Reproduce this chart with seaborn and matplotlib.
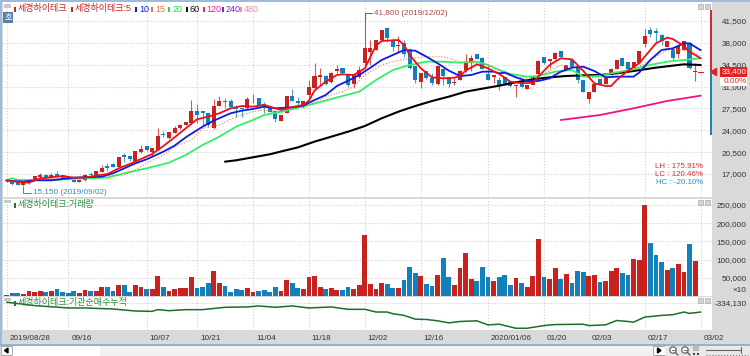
import matplotlib
matplotlib.use('Agg')
import matplotlib.pyplot as plt
from matplotlib.patches import Rectangle, Polygon, Circle
from matplotlib.transforms import ScaledTranslation
import seaborn as sns

# Daily candles, one entry per trading day (won)
opens = [15850,15900,15800,15250,15500,16050,16500,16850,16300,17000,
         16850,16550,16050,15750,16050,17000,16700,17300,18300,18550,
         18200,20000,19750,19100,20450,21350,20600,20850,23400,22700,
         23600,24300,24850,25100,27000,27000,26700,24400,27900,28700,
         28550,27650,27500,27500,28950,29100,28100,27450,26950,25550,
         26800,29500,28700,27750,29600,30700,32550,32550,31650,33550,
         33900,33000,31350,32450,34700,36600,36850,38450,40300,38200,
         37450,37900,36550,34300,31650,33350,32300,31350,33800,32450,
         31500,32050,33650,35000,36200,35500,32950,32600,32050,32450,
         31900,31100,31900,30650,31250,33000,35650,35150,35350,36700,
         33650,35150,33900,32050,28950,30150,32150,31400,33000,33800,
         35500,34800,33900,34800,37800,39950,39900,39150,37350,36950,
         36150,36850,37900,33300]
closes = [16000,15350,15250,15800,15800,16550,16850,16300,16800,16750,
          16300,16150,15800,16050,16850,16800,17450,17900,17900,18200,
          19700,19700,19450,20600,21000,20850,21100,22950,23250,23650,
          24300,24850,25250,27100,26450,26700,24850,27900,28550,28550,
          27750,27400,27350,28950,29000,28050,27950,26900,25750,26450,
          29500,28700,28300,28550,30800,32550,32850,31400,33100,33800,
          33100,31250,32850,33550,37100,37100,38350,39950,38700,37350,
          37650,36150,33900,32050,33100,32300,31500,34150,32700,31400,
          31700,33400,34800,35550,35400,33800,32050,32750,31100,31250,
          31100,31250,31000,31250,32700,35100,34700,35350,36300,35800,
          34450,34200,32050,30150,30000,31400,31250,32450,33800,35150,
          34350,33750,34800,36550,39100,39400,39500,38300,38150,35500,
          37400,38300,33900,33400]
highs = [16050,15950,15850,15850,15850,16600,17100,16950,17100,17550,
         16900,16600,16200,16100,16950,17400,17500,18450,18700,18800,
         19750,20300,20000,20650,21650,21550,21200,24300,23900,23700,
         24700,24950,25400,28850,28200,27150,26800,28950,29550,29100,
         29000,28050,27600,29350,29750,29150,28600,27500,27000,26500,
         29550,30650,29350,28600,32000,34700,33900,32850,33400,34450,
         33950,33050,32900,34300,42700,38450,38400,40000,40550,38700,
         39100,38450,37100,34350,33150,33400,33100,34200,33850,32500,
         32300,33650,36150,36050,36250,35800,34450,32800,32450,32500,
         31950,31250,32000,31300,32750,35250,35700,35400,36600,36750,
         34500,35200,33950,32100,30050,31450,32200,32500,33950,35200,
         35550,34850,34850,36600,40150,40550,40300,39400,38200,37000,
         37450,38350,38200,34700]
lows = [15800,15300,15200,15100,15450,16000,16300,16250,16250,16700,
        16150,16050,15700,15700,15950,16550,16650,17250,17500,18150,
        18150,19000,19100,19050,20400,20750,19800,20800,22950,22650,
        23550,24250,24800,25050,25100,24850,24550,24150,27850,27500,
        27700,26150,26150,27400,28300,28000,26700,26850,25350,25500,
        26750,28650,27900,27500,28850,30600,31250,31300,31600,33100,
        33050,30850,30700,32400,33900,34450,36800,38400,38150,36750,
        36550,35800,33850,31500,30700,32250,31250,31300,31250,31000,
        31250,32000,33350,33550,35350,33750,32000,31500,30450,31200,
        30850,29400,30950,30600,31200,32850,34650,33900,35300,35750,
        33600,34150,31500,30100,28400,30100,31200,31350,32950,33750,
        34300,33700,33850,34750,37250,39000,38200,37650,37300,35250,
        35500,36800,33850,31900]

# Volume in thousands of shares, same order as the candles
volume_k = [4,9,9,5,13,11,13,11,15,20,11,9,15,7,16,15,13,24,26,13,
            31,29,11,31,26,18,20,55,26,15,20,22,22,53,22,24,37,68,35,27,
            11,20,16,22,11,13,16,11,26,15,44,37,22,18,52,55,24,18,22,16,
            16,24,20,29,167,33,20,35,33,21,21,44,80,64,55,33,27,58,105,53,
            29,77,117,46,40,81,53,40,53,57,29,49,37,24,55,157,53,46,77,48,
            60,37,70,66,55,57,38,42,70,76,62,57,102,98,250,146,113,93,71,77,
            87,66,144,96]

# Moving averages at the marked trading days
ma5_x = [0,2,4,6,8,10,12,14,16,18,20,22,24,26,28,30,32,34,36,38,40,42,44,46,48,49,50,53,54,55,57,59,60,62,63,64,65,66,67,68,70,71,72,74,76,78,80,81,82,84,86,88,90,92,94,95,97,99,101,103,105,107,108,109,111,113,115,116,118,119,121,122,124]
ma5_y = [15990,15720,15615,16310,16470,16680,16415,16415,16735,17000,17905,18600,19400,20200,21480,22870,24310,25750,26175,26710,27510,27880,27775,28040,27510,27240,27510,28040,28735,30335,31775,32840,32950,32840,33375,33905,35775,37535,38280,38335,38440,37640,36040,33905,32465,32305,32415,32680,33535,34545,33905,33000,31775,31510,31615,32575,34440,35510,35345,33535,31510,31080,31080,32040,33535,34705,36840,37905,38815,38600,37480,36575,35510]
ma10_x = [0,3,5,8,12,17,19,21,23,25,28,30,32,35,37,40,42,44,46,48,51,53,55,57,59,61,63,65,67,69,71,73,75,77,79,81,83,85,87,88,89,91,93,95,97,99,101,103,105,107,109,112,113,115,117,119,121,122,124]
ma10_y = [15935,15775,15990,15990,16415,16575,17110,17905,18710,19350,20575,21535,22870,24575,25535,26710,27135,27400,27775,27510,27665,27935,28840,29640,31080,31935,32840,34015,35240,36040,36840,36735,35775,34705,33535,32680,32840,33375,33375,33105,33215,32465,31880,31880,32305,33375,34015,34175,33480,32465,32575,32575,33215,35240,36840,37105,37905,37905,36800]
ma15_x = [0,10,16,21,23,25,28,30,33,35,38,41,44,46,49,51,54,57,60,62,64,67,69,72,75,78,81,84,86,88,91,94,96,99,102,104,107,110,113,116,118,122,124]
ma15_y = [15990,16310,16575,16840,17640,18710,20040,21375,22440,24310,24850,26175,26975,27240,26975,27775,28040,29375,30175,30975,32840,34440,34975,35510,35775,35775,34975,34705,34440,33535,32465,32305,33105,34440,34175,32465,32305,33375,34175,35775,36840,36840,35775]
ma20_x = [0,1,2,8,14,18,21,25,29,32,35,38,41,44,46,50,54,58,60,63,66,69,72,75,78,81,84,86,88,90,93,95,98,101,103,106,108,112,114,118,121,124]
ma20_y = [16040,16310,16040,16040,16310,16415,17110,17905,18815,20040,21640,22975,24575,25640,26440,27135,28040,29000,29480,30175,32040,33640,34440,34975,34975,34815,34975,34440,33640,33000,32575,32680,33375,33640,32575,32680,33105,33750,34280,34975,35240,35510]
ma60_x = [39,41,44,47,49,52,55,58,61,64,67,70,73,76,79,82,85,88,91,94,97,100,103,106,109,112,116,121,124]
ma60_y = [18975,19190,19670,20150,20600,21250,22175,22975,23775,24680,25910,26975,27880,28680,29375,30175,30655,31135,31670,32150,32465,32680,32785,32840,33105,33480,34015,34550,34440]
ma120_x = [99,106,112,118,124]
ma120_y = [25640,26440,27510,28680,29535]

# Cumulative institutional net buying
inst_x = [0,5,11,14,19,23,26,27,29,32,35,39,43,45,48,51,54,58,61,64,66,68,69,71,73,75,77,79,81,84,86,88,91,93,96,98,103,104,107,109,111,112,114,117,119,121,122,124]
inst_y = [-333130,-338130,-341630,-341630,-343130,-346130,-346630,-344130,-345630,-344130,-344130,-340630,-340130,-338630,-340630,-338630,-341630,-340130,-343630,-343630,-347630,-347630,-350130,-352630,-358130,-358630,-360630,-363630,-361630,-360630,-366630,-365630,-371630,-371630,-367630,-366130,-365630,-367630,-366630,-360130,-361630,-362630,-355130,-352630,-351630,-347630,-349630,-347630]

# Axis labels
date_pos = [0,11,25,34,44,54,64,74,86,96,104,114,124]
date_labels = ['2019/08/28','09/16','10/07','10/21','11/04','11/18','12/02','12/16','2020/01/06','01/20','02/03','02/17','03/02']
price_ticks = [17000,20500,24000,27500,31000,34500,38000,41500]
volume_ticks = [50000,100000,150000,200000,250000]

W, H = 750, 356
RED = '#c9211e'
BLUE = '#1280ba'
GRID = '#cfcfcf'
GRAY = '#d9d9d9'

sns.set_style('whitegrid', {'grid.linestyle': ':', 'grid.color': GRID, 'axes.edgecolor': GRAY})
plt.rcParams['font.family'] = ['Liberation Sans', 'Noto Sans CJK KR', 'DejaVu Sans']

fig = plt.figure(figsize=(W / 100, H / 100), dpi=100, facecolor=GRAY)

def panel(top, bottom):
    return fig.add_axes([3 / W, 1 - bottom / H, 708.5 / W, (bottom - top) / H])

ax_price = panel(2, 197)
ax_vol = panel(199, 296)
ax_inst = panel(297, 330)

# --- candles ---
days = list(range(len(opens)))
up = [c >= o for o, c in zip(opens, closes)]
colors = [RED if u else BLUE for u in up]
ax_price.vlines(days, lows, highs, colors=colors, lw=0.8, alpha=0.75, zorder=2)
ax_price.bar(days, [abs(c - o) + 60 for o, c in zip(opens, closes)],
             bottom=[min(o, c) for o, c in zip(opens, closes)],
             width=0.72, color=colors, linewidth=0, zorder=2.5)

# moving averages
ma_styles = [(ma120_x, ma120_y, '#f0108c', '-', 1.3),
             (ma60_x, ma60_y, '#000000', '-', 1.5),
             (ma20_x, ma20_y, '#33f066', '-', 1.3),
             (ma15_x, ma15_y, '#f07a50', ':', 0.8),
             (ma10_x, ma10_y, '#0a1ee0', '-', 1.3),
             (ma5_x, ma5_y, '#ee0f18', '-', 1.3)]
for mx, my, col, ls, lw in ma_styles:
    sns.lineplot(x=mx, y=my, color=col, linestyle=ls, linewidth=lw, ax=ax_price, zorder=3)

# high and low callouts
ax_price.plot([64, 64, 65.2], [41800, 42700, 42700], color='#a84848', lw=0.7, zorder=3)
ax_price.text(65.6, 42700, '41,800 (2019/12/02)', color='#a84848', fontsize=5.9, va='center')
ax_price.plot([3, 3, 4.3], [15000, 14015, 14015], color='#2f8cc0', lw=0.7, zorder=3)
ax_price.text(4.7, 14015, '15,150 (2019/09/02)', color='#2f8cc0', fontsize=5.9, va='center')
ax_price.plot([123.6, 124.4], [33400, 33400], color=RED, lw=0.8, zorder=3)

# --- volume ---
sns.barplot(x=days, y=[v * 1000 for v in volume_k], hue=['up' if u else 'down' for u in up],
            palette={'up': RED, 'down': BLUE}, native_scale=True, dodge=False, width=0.86,
            saturation=1, legend=False, linewidth=0, ax=ax_vol, zorder=2)

# --- institutional line ---
sns.lineplot(x=inst_x, y=inst_y, color='#1c6e2c', linewidth=1.1, ax=ax_inst, zorder=3)

# --- scales ---
x_left = (3 - 6.67) / 5.597
x_right = (711.5 - 6.67) / 5.597
ax_price.set_ylim(13320, 44520)
ax_vol.set_ylim(0, 266500)
ax_inst.set_ylim(-374180, -325430)
ax_price.set_yticks(price_ticks)
ax_price.set_yticklabels([f'{v:,}' for v in price_ticks])
ax_vol.set_yticks(volume_ticks)
ax_vol.set_yticklabels([f'{v:,}' for v in volume_ticks])
ax_inst.set_yticks([-334130])
ax_inst.set_yticklabels(['-334,130'])

for ax in (ax_price, ax_vol, ax_inst):
    ax.set_facecolor('white')
    ax.set_xlim(x_left, x_right)
    ax.set_xticks(date_pos)
    ax.set_xticklabels([])
    ax.set_xlabel('')
    ax.set_ylabel('')
    ax.set_axisbelow(True)
    ax.grid(True, linestyle=':', color=GRID, linewidth=0.8)
    ax.yaxis.tick_right()
    ax.tick_params(axis='y', length=0, pad=25.3, labelsize=5.9, colors='#333333')
    ax.tick_params(axis='x', length=0)
    for lab in ax.get_yticklabels():
        lab.set_ha('right')
    for s in ax.spines.values():
        s.set_visible(False)

ax_inst.set_xticklabels(date_labels, fontsize=5.9, color='#333333', ha='left')
ax_inst.tick_params(axis='x', pad=3.5)
shift = ScaledTranslation(3 / 100, 0, fig.dpi_scale_trans)
for lab in ax_inst.get_xticklabels():
    lab.set_transform(lab.get_transform() + shift)

# --- window furniture, drawn in pixel coordinates ---
ov = fig.add_axes([0, 0, 1, 1], zorder=10)
ov.set_xlim(0, W)
ov.set_ylim(H, 0)
ov.axis('off')

def box(x0, y0, x1, y1, color, edge='none'):
    ov.add_patch(Rectangle((x0, y0), x1 - x0, y1 - y0, facecolor=color, edgecolor=edge, linewidth=0.5))

def label(x, y, s, color, size=6.5, ha='left'):
    ov.text(x, y, s, color=color, fontsize=size, ha=ha, va='center')

# frame
box(0, 0, W, 1.5, '#9dbbdc')
box(0, 0, 1.5, 345, '#9dbbdc')
box(0, 344, W, 345.5, '#8fb2d6')
box(1.5, 345.5, W, H, '#f4f4f4')
box(12, 345.5, 100, H, '#ffffff')
box(100, 345.5, 653, H, '#f1f1f1')
box(1, 346, 12, 355, '#ffffff', '#888888')
ov.add_patch(Polygon([[4.5, 350.5], [8, 348], [8, 353]], color='black'))
box(653, 346, 665, 355, '#ffffff', '#888888')
ov.add_patch(Polygon([[661, 350.5], [657.5, 348], [657.5, 353]], color='black'))
box(665, 345.5, W, H, '#e8e8e8')
for cx in (673, 685):
    ov.add_patch(Circle((cx, 350), 3.2, facecolor='white', edgecolor='#555555', linewidth=0.8))
    ov.plot([cx + 2.3, cx + 5], [352.3, 355], color='#555555', lw=0.9)
    ov.plot([cx - 1.5, cx + 1.5], [350, 350], color='#555555', lw=0.6)
box(693, 346, 699, 351, '#b9b9b9')
box(693, 352.5, 695, 354.5, '#444444')
box(697, 352.5, 699, 354.5, '#444444')
ov.plot([706, 741], [349.5, 349.5], color='#666666', lw=0.8)
ov.plot([741, 741], [347, 353], color='#666666', lw=0.8)
ov.plot([706, 748], [355, 355], color='#777777', lw=0.8, ls=':')

# top left corner and panel buttons
box(4, 4, 11, 8, '#c9c9c9')
box(4, 200, 11, 203, '#c9c9c9')
box(4, 298, 11, 301, '#c9c9c9')
box(3, 12, 13, 23, '#5a7fa6')
label(8, 17.5, '호', 'white', size=6, ha='center')
for y0 in (4, 200, 298):
    box(698, y0, 703, y0 + 5, '#d4d4d4', '#aaaaaa')
    box(705, y0, 710, y0 + 5, '#d4d4d4', '#aaaaaa')

# legend of the price panel
legend_items = [(15, 18, '세경하이테크', '#cc2222'), (72, 75, '세경하이테크:5', '#cc2222'),
                (136, 139.5, '10', '#0a1ee0'), (152, 155.5, '15', '#e8704a'),
                (169, 172.5, '20', '#22d855'), (187, 189.5, '60', '#111111'),
                (204, 206.5, '120', '#ee2090'), (223, 225.5, '240', '#8020e0'),
                (241, 243.5, '480', '#f58ab0')]
for mx, tx, s, col in legend_items:
    box(mx - 0.8, 6.5, mx + 0.8, 11.5, col)
    label(tx, 9, s, col)

box(14.2, 202.5, 15.8, 207.5, '#1c7a30')
label(18, 205, '세경하이테크:거래량', '#2e8b40')
box(14.2, 300.5, 15.8, 305.5, '#1c7a30')
label(18, 303, '세경하이테크:기관순매수누적', '#2e8b40')

# LH / LC / HC block
label(703, 166, 'LH : 175.91%', '#cc3333', size=5.7, ha='right')
label(703, 174, 'LC : 120.46%', '#cc3333', size=5.7, ha='right')
label(703, 182, 'HC : -20.10%', '#2f8cc0', size=5.7, ha='right')

# range bar and current price on the right
box(710.3, 10, 712, 72, '#c9302c')
box(710.3, 72, 712, 135, '#1f82b8')
ov.add_patch(Polygon([[711, 72], [716.5, 68.5], [716.5, 75.5]], color='#e02020'))
box(720, 67, 747, 76.5, '#e32222')
label(746.5, 71.7, '33,400', 'white', size=5.9, ha='right')
box(720, 76.5, 747, 86, '#ffffff')
label(746.5, 81.2, '0.00%', '#e32222', size=5.9, ha='right')
label(746.5, 291, '×10', '#333333', size=5.9, ha='right')

fig.savefig('out.png', dpi=100, facecolor=GRAY)
